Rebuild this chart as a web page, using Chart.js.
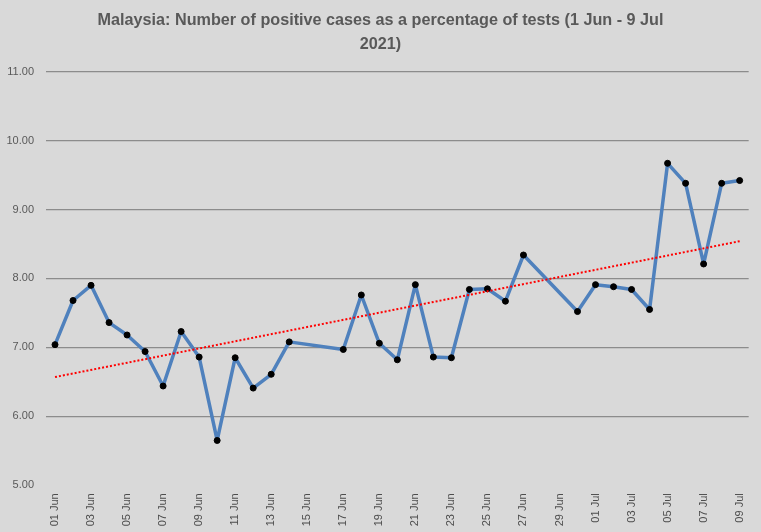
<!DOCTYPE html>
<html>
<head>
<meta charset="utf-8">
<script src="https://cdn.jsdelivr.net/npm/chart.js@4/dist/chart.umd.min.js"></script>
<style>
  html, body { margin: 0; padding: 0; background: #d9d9d9; }
  #wrap { width: 761px; height: 532px; }
</style>
</head>
<body>
<div id="wrap"><canvas id="myChart" width="761" height="532"></canvas></div>
<script>
// every day from 01 Jun to 09 Jul 2021
let days = ['01 Jun', '02 Jun', '03 Jun', '04 Jun', '05 Jun', '06 Jun', '07 Jun', '08 Jun', '09 Jun', '10 Jun',
  '11 Jun', '12 Jun', '13 Jun', '14 Jun', '15 Jun', '16 Jun', '17 Jun', '18 Jun', '19 Jun', '20 Jun',
  '21 Jun', '22 Jun', '23 Jun', '24 Jun', '25 Jun', '26 Jun', '27 Jun', '28 Jun', '29 Jun', '30 Jun',
  '01 Jul', '02 Jul', '03 Jul', '04 Jul', '05 Jul', '06 Jul', '07 Jul', '08 Jul', '09 Jul'];

// positive rate (%), null where there is no figure for that day
let positiveRate = [7.04, 7.68, 7.90, 7.36, 7.18, 6.94, 6.44, 7.23, 6.86, 5.65,
  6.85, 6.41, 6.61, 7.08, null, null, 6.97, 7.76, 7.06, 6.82,
  7.91, 6.86, 6.85, 7.84, 7.85, 7.67, 8.34, null, null, 7.52,
  7.91, 7.88, 7.84, 7.55, 9.67, 9.38, 8.21, 9.38, 9.42];

// linear trend line, start and end values
let trendStart = 6.57;
let trendEnd = 8.54;

let yTicks = [5, 6, 7, 8, 9, 10, 11];

let trend = days.map((d, i) => i === 0 ? trendStart : (i === days.length - 1 ? trendEnd : null));

let grey = '#595959';
let fontFam = '"Liberation Sans", Arial, sans-serif';

let bg = {
  id: 'bg',
  beforeDraw(chart) {
    let c = chart.ctx;
    c.save();
    c.fillStyle = '#d9d9d9';
    c.fillRect(0, 0, chart.width, chart.height);
    c.restore();
  },
  // centre the title on the whole canvas, not the padded area
  afterLayout(chart) {
    let t = chart.titleBlock;
    if (t) { t.left = 0; t.right = chart.width; t.width = chart.width; }
  }
};

let ctx = document.getElementById('myChart').getContext('2d');
let lineChart = new Chart(ctx, {
  type: 'line',
  data: {
    labels: days,
    datasets: [{
      label: 'Positive rate',
      data: positiveRate,
      borderColor: '#4f81bd',
      borderWidth: 3.5,
      borderJoinStyle: 'round',
      pointBackgroundColor: '#000000',
      pointBorderColor: '#000000',
      pointRadius: 3,
      pointBorderWidth: 1,
      spanGaps: true,
      tension: 0,
      order: 2
    }, {
      label: 'Trend',
      data: trend,
      borderColor: '#ff0000',
      borderWidth: 2,
      borderDash: [2, 2],
      pointRadius: 0,
      spanGaps: true,
      order: 1
    }]
  },
  options: {
    responsive: false,
    animation: false,
    layout: { padding: { left: 0, right: 11, top: 0, bottom: 0 } },
    plugins: {
      legend: { display: false },
      tooltip: { enabled: false },
      title: {
        display: true,
        text: ['Malaysia: Number of positive cases as a percentage of tests (1 Jun - 9 Jul', '2021)'],
        color: grey,
        font: { family: fontFam, size: 16.2, weight: 'bold', lineHeight: 1.5 },
        padding: { top: 8, bottom: 15 }
      }
    },
    scales: {
      x: {
        type: 'category',
        offset: true,
        grid: { display: false, drawTicks: false },
        border: { display: false },
        ticks: {
          autoSkip: false,
          maxRotation: 90,
          minRotation: 90,
          padding: 8,
          color: '#4d4d4d',
          font: { family: fontFam, size: 11 },
          callback: function (val, i) { return i % 2 === 0 ? days[i] : ''; }
        },
        afterFit: function (s) { s.height = 46.7; }
      },
      y: {
        min: yTicks[0],
        max: yTicks[yTicks.length - 1],
        afterBuildTicks: function (s) { s.ticks = yTicks.map(v => ({ value: v })); },
        grid: {
          drawTicks: false,
          lineWidth: 1.3,
          color: c => c.tick && c.tick.value === yTicks[0] ? 'rgba(0,0,0,0)' : '#8c8c8c'
        },
        border: { display: false },
        ticks: {
          padding: 12,
          color: grey,
          font: { family: fontFam, size: 11 },
          callback: v => v.toFixed(2)
        },
        afterFit: function (s) { s.width = 46; }
      }
    }
  },
  plugins: [bg]
});
</script>
</body>
</html>
